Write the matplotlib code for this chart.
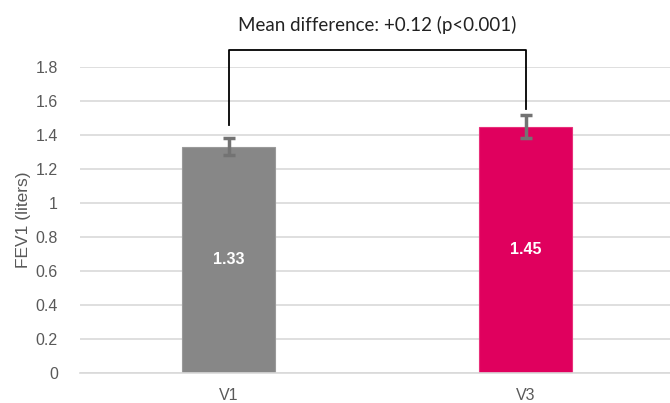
import matplotlib.pyplot as plt
import numpy as np

# data
visits = ['V1', 'V3']
fev1 = [1.33, 1.45]
err = [0.05, 0.065]
colors = ['#878787', '#E0005E']
diff_text = 'Mean difference: +0.12 (p<0.001)'
yticks = [0, 0.2, 0.4, 0.6, 0.8, 1, 1.2, 1.4, 1.6, 1.8]
ytick_labels = ['0', '0.2', '0.4', '0.6', '0.8', '1', '1.2', '1.4', '1.6', '1.8']

plt.rcParams['font.family'] = ['Liberation Sans', 'DejaVu Sans']

fig = plt.figure(figsize=(6.7, 4.03), dpi=100)
W, H = 670, 403
ax = fig.add_axes([80 / W, 1 - 373 / H, 594 / W, (373 - 67) / H])

x = np.arange(len(visits))
bars = ax.bar(x, fev1, width=0.315, color=colors, edgecolor=['#9a9a9a', '#e8307a'],
              linewidth=0.8, zorder=2)
ax.errorbar(x, fev1, yerr=err, fmt='none', ecolor='#737373', elinewidth=2.5,
            capsize=4, capthick=2.5, zorder=3)

for xi, v in zip(x, fev1):
    ax.text(xi, v / 2, f'{v:.2f}', ha='center', va='center', color='white',
            fontsize=11.5, fontweight='bold')

ax.set_xlim(-0.5, 1.5)
ax.set_ylim(0, 1.8)
ax.set_yticks(yticks)
ax.set_yticklabels(ytick_labels)
ax.set_xticks(x)
ax.set_xticklabels(visits)
ax.tick_params(axis='both', length=0, colors='#595959', labelsize=11.5)
ax.tick_params(axis='y', pad=16)
ax.tick_params(axis='x', pad=11)
ax.yaxis.grid(True, color='#d9d9d9', linewidth=1.2, zorder=0)
ax.set_axisbelow(True)
for s in ['top', 'right', 'left']:
    ax.spines[s].set_visible(False)
ax.spines['bottom'].set_color('#d9d9d9')
ax.spines['bottom'].set_linewidth(1.2)
ax.set_ylabel('FEV1 (liters)', color='#595959', fontsize=12.5, labelpad=3)

# significance bracket
top = 1.9
ax.plot([x[0], x[0], x[1], x[1]], [fev1[0] + err[0] + 0.08, top, top, fev1[1] + err[1] + 0.04],
        color='black', linewidth=1.3, clip_on=False)
ax.text((x[0] + x[1]) / 2, 2.05, diff_text, ha='center', va='center', fontsize=13.5,
        color='#222222', clip_on=False, family=['Lato', 'DejaVu Sans'])

fig.savefig('out.png', dpi=100)
